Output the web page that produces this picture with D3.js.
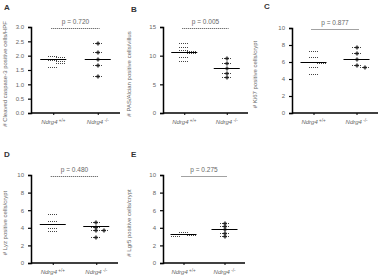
<!DOCTYPE html>
<html>
<head>
<style>
  body { margin: 0; background: #fff; }
  text { font-family: Arial, "Liberation Sans", sans-serif; }
</style>
<script src="https://d3js.org/d3.v7.min.js"></script>
</head>
<body>
<svg id="chart" width="380" height="280"></svg>
<script>
// values
const groups = ["WT", "KO"];
const panelLetters = ["A", "B", "C", "D", "E"];
const yLabels = [
  "# Cleaved caspase-3 positive cells/HPF",
  "# PAS/Alcian positive cells/villus",
  "# Ki67 positive cells/crypt",
  "# Lyz positive cells/crypt",
  "# Lgr5 positive cells/crypt"
];
const pValues = ["p = 0.720", "p = 0.005", "p = 0.877", "p = 0.480", "p = 0.275"];
const yMax = [3, 15, 10, 10, 10];
const yTicks = [
  [0, 0.5, 1, 1.5, 2, 2.5, 3],
  [0, 5, 10, 15],
  [0, 2, 4, 6, 8, 10],
  [0, 2, 4, 6, 8, 10],
  [0, 2, 4, 6, 8, 10]
];
const wtValues = [
  [2.0, 1.95, 1.85, 1.8, 1.75, 1.6],
  [12.2, 11.5, 11.0, 10.8, 10.5, 9.8, 9.1],
  [7.3, 6.6, 6.0, 5.9, 5.4, 4.6],
  [5.6, 4.8, 4.4, 4.0, 3.6],
  [3.5, 3.3, 3.2, 3.1]
];
const koValues = [
  [2.45, 2.13, 1.9, 1.67, 1.3],
  [9.6, 8.7, 7.8, 7.0, 6.3],
  [7.8, 7.1, 6.4, 5.6, 5.4],
  [4.7, 4.1, 3.8, 3.7, 3.0],
  [4.6, 4.2, 3.9, 3.4, 3.1]
];
const wtMean = [1.88, 10.7, 6.0, 4.4, 3.25];
const koMean = [1.9, 7.85, 6.35, 4.15, 3.9];

// panel frames: axis left, axis right, top, bottom
const frames = [
  {x0: 31, x1: 120, top: 27, bottom: 113, lx: 4, ly: 10, yl: 7},
  {x0: 163, x1: 248, top: 27, bottom: 113, lx: 131, ly: 12, yl: 131},
  {x0: 292, x1: 378, top: 28, bottom: 113, lx: 264, ly: 9, yl: 257},
  {x0: 31, x1: 118, top: 175, bottom: 263, lx: 4, ly: 157, yl: 7},
  {x0: 163, x1: 245, top: 175, bottom: 263, lx: 131, ly: 157, yl: 131}
];

const svg = d3.select("#chart");
const grey = "#666";
const crisp = v => Math.round(v) + 0.5;

frames.forEach((f, i) => {
  const g = svg.append("g");
  const y = d3.scaleLinear().domain([0, yMax[i]]).range([f.bottom, f.top]);
  const x = d3.scalePoint().domain(groups).range([f.x0, f.x1]).padding(0.5);

  // panel letter
  g.append("text").attr("x", f.lx).attr("y", f.ly)
    .attr("font-size", 8).attr("font-weight", "bold").attr("fill", "#333")
    .text(panelLetters[i]);

  // y axis
  const ya = g.append("g").attr("transform", `translate(${f.x0},0)`)
    .call(d3.axisLeft(y).tickValues(yTicks[i]).tickSize(3)
      .tickFormat(yMax[i] === 3 ? d3.format(".1f") : d3.format("d")));
  ya.select(".domain").attr("stroke", "#000").attr("stroke-width", 1.5);
  ya.selectAll(".tick line").attr("stroke", "#000").attr("stroke-width", 1.2);
  ya.selectAll(".tick text").attr("font-size", 6).attr("fill", grey).attr("x", -7);

  // x axis
  const xa = g.append("g").attr("transform", `translate(0,${f.bottom})`)
    .call(d3.axisBottom(x).tickSize(2).tickFormat(""));
  xa.select(".domain").attr("stroke", "#000").attr("stroke-width", 1.5)
    .attr("d", `M${f.x0},0H${f.x1}`);
  xa.selectAll(".tick line").attr("stroke", "#000");

  // x labels
  groups.forEach(k => {
    const t = g.append("text").attr("x", x(k)).attr("y", f.bottom + 11)
      .attr("text-anchor", "middle").attr("font-size", 6).attr("fill", grey);
    t.append("tspan").attr("font-style", "italic").text("Ndrg4");
    t.append("tspan").attr("dy", -2.5).attr("font-size", 4.5).text(k === "WT" ? " +/+" : " -/-");
  });

  // y label
  g.append("text")
    .attr("transform", `translate(${f.yl},${(f.top + f.bottom) / 2 + 4}) rotate(-90)`)
    .attr("text-anchor", "middle").attr("font-size", 6).attr("fill", grey)
    .text(yLabels[i]);

  // p value bracket
  const pY = crisp(f.top + 1);
  g.append("line")
    .attr("x1", x("WT") - 2).attr("x2", x("KO") + 2)
    .attr("y1", pY).attr("y2", pY)
    .attr("stroke", "#444").attr("stroke-width", 1).attr("stroke-dasharray", "1,1");
  g.append("text").attr("x", (x("WT") + x("KO")) / 2).attr("y", pY - 5)
    .attr("text-anchor", "middle").attr("font-size", 6.5).attr("fill", grey)
    .text(pValues[i]);

  // points with simple spread for close values
  [[wtValues[i], "WT"], [koValues[i], "KO"]].forEach(([vals, k]) => {
    const sorted = vals.slice().sort((a, b) => b - a);
    const placed = [];
    sorted.forEach(v => {
      const py = crisp(y(v));
      const near = placed.filter(p => Math.abs(p.py - py) < 3).length;
      const off = near === 0 ? 0 : (near % 2 ? 1 : -1) * Math.ceil(near / 2) * 8;
      placed.push({py, px: Math.round(x(k) + off)});
    });
    placed.forEach(p => {
      g.append("line").attr("x1", p.px - 5).attr("x2", p.px + 5)
        .attr("y1", p.py).attr("y2", p.py)
        .attr("stroke", "#444").attr("stroke-width", 1).attr("stroke-dasharray", "1,1");
      if (k === "KO") {
        g.append("path").attr("transform", `translate(${p.px},${p.py})`)
          .attr("d", d3.symbol().type(d3.symbolCross).size(9))
          .attr("fill", "#222");
      }
    });
  });

  // mean lines
  [[wtMean[i], "WT"], [koMean[i], "KO"]].forEach(([m, k]) => {
    const my = crisp(y(m));
    g.append("line").attr("x1", x(k) - 13).attr("x2", x(k) + 13)
      .attr("y1", my).attr("y2", my)
      .attr("stroke", "#000").attr("stroke-width", 1);
  });
});
</script>
</body>
</html>
